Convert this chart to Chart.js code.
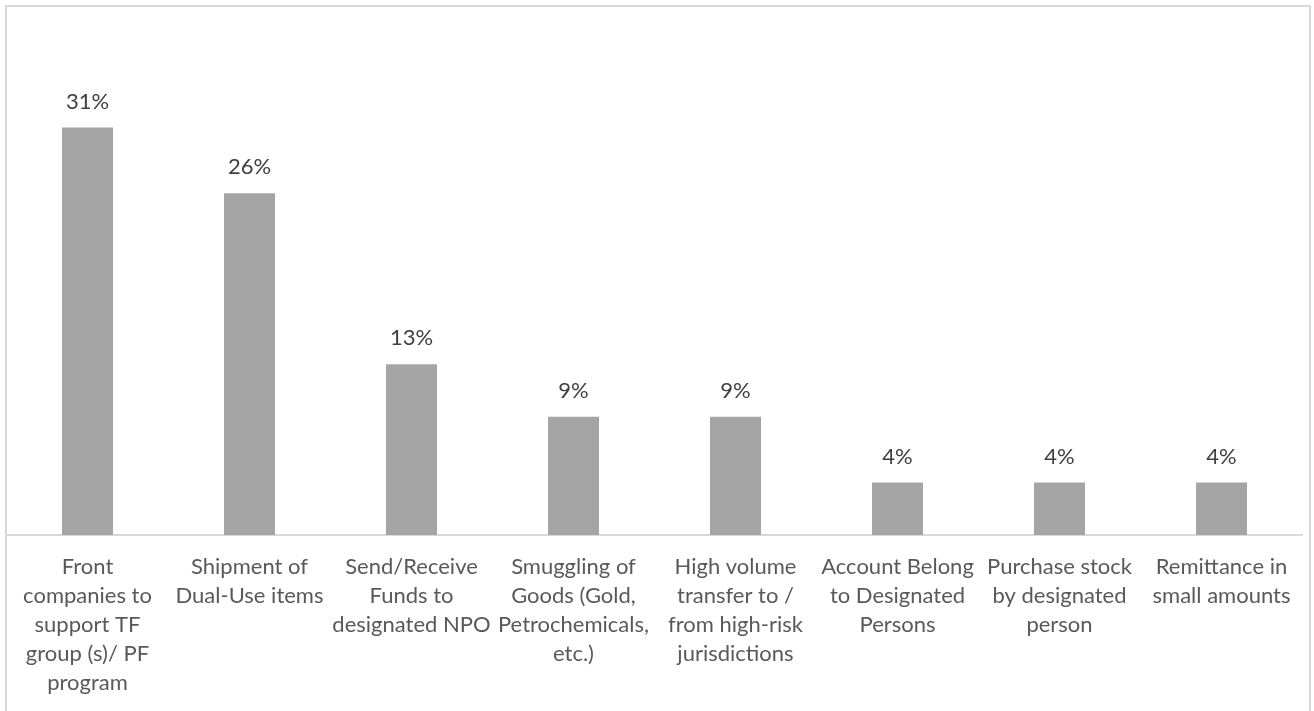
<!DOCTYPE html>
<html>
<head>
<meta charset="utf-8">
<script src="https://cdn.jsdelivr.net/npm/chart.js@4"></script>
<style>
  html, body { margin: 0; padding: 0; background: #fff; }
  #wrap { position: relative; width: 1314px; height: 711px; }
</style>
</head>
<body>
<div id="wrap"><canvas id="chart" width="1314" height="711"></canvas></div>
<script>
// Typologies, each label split into its wrapped lines
const categories = [
  ['Front', 'companies to', 'support TF', 'group (s)/ PF', 'program'],
  ['Shipment of', 'Dual-Use items'],
  ['Send/Receive', 'Funds to', 'designated NPO'],
  ['Smuggling of', 'Goods (Gold,', 'Petrochemicals,', 'etc.)'],
  ['High volume', 'transfer to /', 'from high-risk', 'jurisdictions'],
  ['Account Belong', 'to Designated', 'Persons'],
  ['Purchase stock', 'by designated', 'person'],
  ['Remittance in', 'small amounts']
];
const shares = [31, 26, 13, 9, 9, 4, 4, 4];

const FONT = 'Lato, "Open Sans", sans-serif';

// outer frame of the chart area
const framePlugin = {
  id: 'frame',
  beforeDraw(chart) {
    const c = chart.ctx;
    c.save();
    c.fillStyle = '#ffffff';
    c.fillRect(0, 0, chart.width, chart.height);
    c.strokeStyle = '#d9d9d9';
    c.lineWidth = 2;
    c.strokeRect(6, 6, 1304, 720);
    c.restore();
  }
};

// percentage above each bar
const valueLabels = {
  id: 'valueLabels',
  afterDatasetsDraw(chart) {
    const c = chart.ctx;
    const meta = chart.getDatasetMeta(0);
    c.save();
    c.font = '22px ' + FONT;
    c.fillStyle = '#404040';
    c.textAlign = 'center';
    c.textBaseline = 'middle';
    meta.data.forEach((bar, i) => {
      c.fillText(shares[i] + '%', bar.x, bar.y - 26);
    });
    c.restore();
  }
};

new Chart(document.getElementById('chart'), {
  type: 'bar',
  data: {
    labels: categories,
    datasets: [{
      data: shares,
      backgroundColor: '#a5a5a5',
      categoryPercentage: 1,
      barPercentage: 0.315
    }]
  },
  options: {
    responsive: false,
    animation: false,
    layout: { padding: { left: 6.5, right: 11.5, top: 75, bottom: 0 } },
    plugins: { legend: { display: false }, tooltip: { enabled: false } },
    scales: {
      y: { display: false, min: 0, max: 35 },
      x: {
        grid: { display: false, drawTicks: false },
        border: { color: '#d9d9d9', width: 2 },
        ticks: {
          color: '#595959',
          font: { family: FONT, size: 22, lineHeight: 1.32 },
          padding: 17.5,
          maxRotation: 0,
          autoSkip: false
        },
        afterFit(scale) { scale.height = 176; }
      }
    }
  },
  plugins: [framePlugin, valueLabels]
});
</script>
</body>
</html>
